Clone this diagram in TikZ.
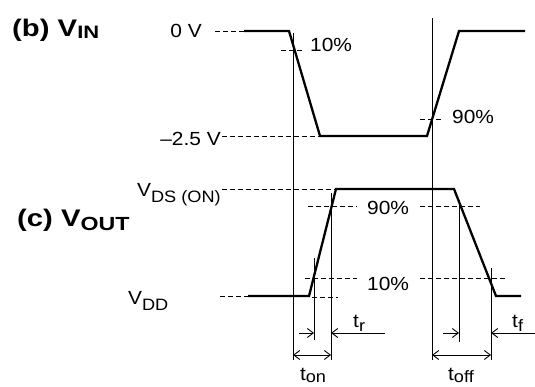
\documentclass[tikz,border=0pt]{standalone}
\usepackage{fontspec}
\setmainfont{Liberation Sans}
\usetikzlibrary{arrows.meta}
\newcommand\lab[1]{\scalebox{1.1}[1]{#1}}
\newcommand\sub[2][6pt]{\raisebox{-#1}{\fontsize{16.5}{16.5}\selectfont #2}}
\begin{document}
\begin{tikzpicture}[x=1pt,y=-1pt,
  wave/.style={line width=2.3pt},
  thin/.style={line width=0.9pt},
  dsh/.style={line width=0.9pt, dash pattern=on 4.5pt off 3.5pt},
  arr/.style={thin,-{Straight Barb[length=6pt,width=9pt]}},
  darr/.style={thin,{Straight Barb[length=6pt,width=9pt]}-{Straight Barb[length=6pt,width=9pt]}},
  lbl/.style={inner sep=0pt, font=\fontsize{19}{19}\selectfont},
  big/.style={inner sep=0pt, font=\fontsize{24}{24}\selectfont\bfseries}]
\fill[white] (0,0) rectangle (535,387);
\useasboundingbox (0,0) rectangle (535,387);

% ---- labels
\node[big, anchor=base west] (lb) at (12,37) {\scalebox{1.22}[1]{(b) V\raisebox{-2pt}{\fontsize{18}{18}\selectfont IN}}};
\node[big, anchor=base west] (lc) at (17,227) {\scalebox{1.22}[1]{(c) V\raisebox{-4pt}{\fontsize{19}{19}\selectfont OUT}}};
\node[lbl, anchor=base east] (l0) at (202,38) {\lab{0 V}};
\node[lbl, anchor=base east] (l25) at (221,146) {\lab{\textendash2.5 V}};
\node[lbl, anchor=base west] (p10a) at (310,52) {\lab{10\%}};
\node[lbl, anchor=base west] (p90a) at (452,124) {\lab{90\%}};
\node[lbl, anchor=base west] (lds) at (137,197) {\lab{V\sub{DS (ON)}}};
\node[lbl, anchor=base west] (ldd) at (128,304) {\lab{V\sub{DD}}};
\node[lbl, anchor=base west] (p90b) at (367,215) {\lab{90\%}};
\node[lbl, anchor=base west] (p10b) at (367,290) {\lab{10\%}};
\node[lbl, anchor=base west] (tr) at (353,327) {\lab{t\sub[4pt]{r}}};
\node[lbl, anchor=base west] (tf) at (512,327) {\lab{t\sub[4pt]{f}}};
\node[lbl, anchor=base] (ton) at (313,380) {\lab{t\sub[2.5pt]{on}}};
\node[lbl, anchor=base] (toff) at (461,380) {\lab{t\sub[2.5pt]{off}}};

% ---- input waveform
\coordinate (a0) at (244,31);
\coordinate (a1) at (289,31);
\coordinate (a2) at (320,136);
\coordinate (a3) at (427,136);
\coordinate (a4) at (459,31);
\coordinate (a5) at (525,31);
\draw[wave] (a0) -- (a1) -- (a2) -- (a3) -- (a4) -- (a5);

% ---- output waveform
\coordinate (b0) at (248,296);
\coordinate (b1) at (309,296);
\coordinate (b2) at (336,189);
\coordinate (b3) at (454,189);
\coordinate (b4) at (496,296);
\coordinate (b5) at (521,296);
\draw[wave] (b0) -- (b1) -- (b2) -- (b3) -- (b4) -- (b5);

% ---- dashed reference lines
\draw[dsh] (215,31) -- (a0);
\draw[dsh] (222,136) -- (a2);
\draw[dsh] (281,50) -- (303,50);
\draw[dsh] (420,119) -- (443,119);
\draw[dsh] (222,189) -- (b2);
\draw[dsh] (220,296) -- (b0);
\draw[dsh] (312,297) -- (338,297);
\draw[dsh] (308,206) -- (357,206);
\draw[dsh] (420,206) -- (480,206);
\draw[dsh] (305,278) -- (357,278);
\draw[dsh] (420,278) -- (507,278);

% ---- vertical markers
\coordinate (v1t) at (293,33);  \coordinate (v1b) at (293,360);
\coordinate (v2t) at (432,18);  \coordinate (v2b) at (432,360);
\coordinate (v3t) at (314,258); \coordinate (v3b) at (314,340);
\coordinate (v4t) at (331,193); \coordinate (v4b) at (331,360);
\coordinate (v5t) at (459,200); \coordinate (v5b) at (459,342);
\coordinate (v6t) at (491,268); \coordinate (v6b) at (491,360);
\foreach \v in {1,...,6} \draw[thin] (v\v t) -- (v\v b);

% ---- timing arrows
\draw[arr] (299,333) -- (314,333);
\draw[arr] (385,333) -- (331,333);
\draw[arr] (443,333) -- (459,333);
\draw[arr] (535,333) -- (491,333);
\draw[darr] (293,355) -- (331,355);
\draw[darr] (432,355) -- (491,355);
\end{tikzpicture}
\end{document}
